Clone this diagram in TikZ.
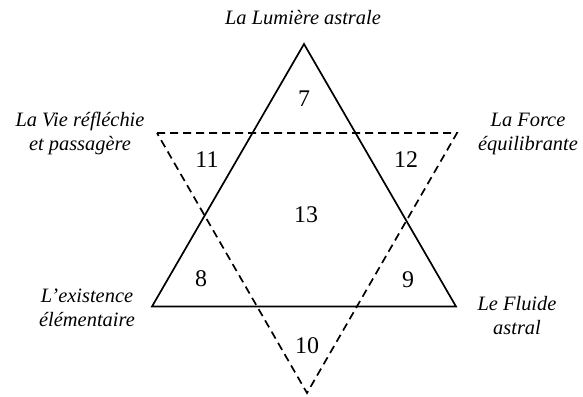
\documentclass[tikz,border=0pt]{standalone}
\usepackage{fontspec}
\setmainfont{Liberation Serif}
\begin{document}
\begin{tikzpicture}[x=1bp,y=-1bp,
  solidtri/.style={line width=1.7bp,line join=miter},
  dashtri/.style={line width=1.7bp,dash pattern=on 8bp off 5bp,line join=miter},
  lbl/.style={inner sep=0pt,anchor=base,font=\fontsize{20.5}{24.5}\selectfont\itshape},
  num/.style={inner sep=0pt,font=\fontsize{24}{27}\selectfont}]
\useasboundingbox (0,0) rectangle (583,396);
% solid triangle
\coordinate (A) at (304,44);
\coordinate (B) at (152,306.5);
\coordinate (C) at (456,306.5);
% dashed triangle
\coordinate (D) at (157,133);
\coordinate (E) at (457,133);
\coordinate (F) at (307,393);
\draw[solidtri] (A) -- (B) -- (C) -- cycle;
\draw[dashtri] (D) -- (E) -- (F) -- cycle;
% labels
\node[lbl] (top) at (303,24) {La Lumière astrale};
\node[lbl] (tl) at (80,126) {\begin{tabular}[t]{@{}c@{}}La Vie réfléchie\\et passagère\end{tabular}};
\node[lbl] (tr) at (528,126) {\begin{tabular}[t]{@{}c@{}}La Force\\équilibrante\end{tabular}};
\node[lbl] (bl) at (87,302) {\begin{tabular}[t]{@{}c@{}}L’existence\\élémentaire\end{tabular}};
\node[lbl] (br) at (517,310) {\begin{tabular}[t]{@{}c@{}}Le Fluide\\astral\end{tabular}};
% numbers
\node[num] (n7) at (304,99) {7};
\node[num] (n11) at (207,160) {11};
\node[num] (n12) at (406,160) {12};
\node[num] (n13) at (306,215) {13};
\node[num] (n8) at (201,279) {8};
\node[num] (n9) at (408,280) {9};
\node[num] (n10) at (307,346) {10};
\end{tikzpicture}
\end{document}
